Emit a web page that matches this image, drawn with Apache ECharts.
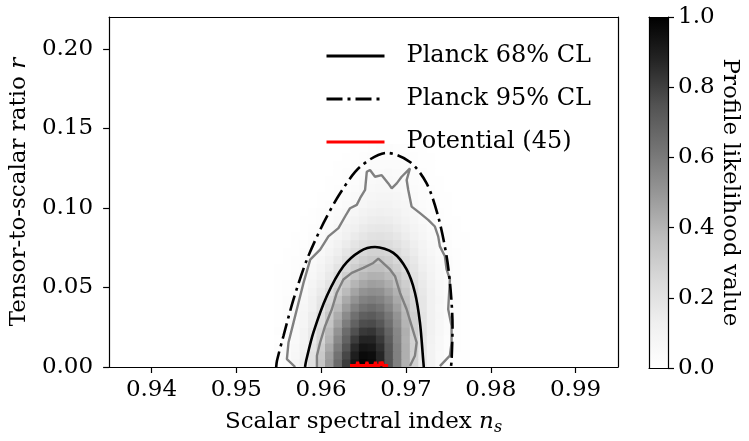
<!DOCTYPE html>
<html><head><meta charset="utf-8">
<script src="https://cdn.jsdelivr.net/npm/echarts@6/dist/echarts.min.js"></script>
<style>html,body{margin:0;padding:0;background:#fff}#c{width:749px;height:441px}</style>
</head><body><div id="c"></div>
<script>
// ---- data ----
const nsGrid = [0.955,0.956,0.957,0.958,0.959,0.960,0.961,0.962,0.963,0.964,0.965,0.966,0.967,0.968,0.969,0.970,0.971,0.972,0.973,0.974,0.975,0.976,0.977];
const rGrid = [0.0025,0.0075,0.0125,0.0175,0.0225,0.0275,0.0325,0.0375,0.0425,0.0475,0.0525,0.0575,0.0625,0.0675,0.0725,0.0775,0.0825,0.0875,0.0925,0.0975,0.1025,0.1075,0.1125,0.1175,0.1225,0.1275,0.1325,0.1375];
const likelihood = [
 [0.017,0.036,0.072,0.13,0.22,0.34,0.49,0.66,0.81,0.93,0.99,0.97,0.88,0.74,0.58,0.41,0.28,0.17,0.10,0.05,0.025,0.011,0.005],
 [0.016,0.033,0.066,0.12,0.205,0.32,0.47,0.63,0.78,0.90,0.965,0.955,0.875,0.74,0.58,0.42,0.28,0.175,0.10,0.054,0.027,0.012,0.005],
 [0.014,0.03,0.059,0.11,0.19,0.30,0.44,0.59,0.74,0.86,0.93,0.92,0.85,0.73,0.575,0.42,0.285,0.18,0.10,0.056,0.028,0.013,0.006],
 [0.012,0.027,0.053,0.098,0.17,0.27,0.40,0.55,0.69,0.81,0.88,0.88,0.82,0.71,0.56,0.415,0.28,0.18,0.105,0.056,0.028,0.013,0.006],
 [0.013,0.028,0.054,0.098,0.165,0.26,0.38,0.51,0.65,0.755,0.82,0.83,0.78,0.68,0.555,0.42,0.29,0.19,0.116,0.065,0.034,0.017,0.008],
 [0.012,0.024,0.047,0.086,0.147,0.23,0.34,0.46,0.59,0.69,0.76,0.77,0.73,0.64,0.53,0.40,0.28,0.186,0.114,0.064,0.034,0.017,0.008],
 [0.012,0.025,0.047,0.085,0.14,0.22,0.32,0.43,0.54,0.635,0.70,0.715,0.68,0.61,0.51,0.39,0.29,0.19,0.12,0.072,0.039,0.02,0.01],
 [0.010,0.021,0.040,0.073,0.12,0.19,0.28,0.38,0.48,0.57,0.63,0.65,0.625,0.56,0.47,0.37,0.27,0.18,0.116,0.069,0.038,0.02,0.01],
 [0.011,0.021,0.040,0.07,0.115,0.18,0.255,0.34,0.435,0.51,0.57,0.59,0.57,0.52,0.44,0.35,0.26,0.18,0.12,0.074,0.042,0.023,0.012],
 [0.009,0.018,0.034,0.06,0.10,0.15,0.22,0.30,0.38,0.455,0.51,0.53,0.52,0.47,0.41,0.325,0.245,0.17,0.113,0.07,0.04,0.022,0.011],
 [0.007,0.015,0.028,0.05,0.083,0.13,0.19,0.26,0.33,0.40,0.445,0.47,0.46,0.425,0.365,0.30,0.225,0.16,0.105,0.065,0.038,0.021,0.01],
 [0.006,0.012,0.023,0.042,0.07,0.11,0.16,0.22,0.29,0.345,0.39,0.415,0.41,0.38,0.33,0.27,0.20,0.145,0.097,0.06,0.035,0.019,0.01],
 [0.005,0.01,0.019,0.035,0.059,0.093,0.137,0.19,0.245,0.30,0.34,0.36,0.36,0.337,0.295,0.24,0.185,0.13,0.089,0.056,0.033,0.018,0.009],
 [0.004,0.008,0.016,0.029,0.049,0.078,0.116,0.16,0.21,0.26,0.295,0.317,0.318,0.30,0.26,0.216,0.167,0.12,0.082,0.052,0.031,0.017,0.009],
 [0.003,0.006,0.011,0.021,0.037,0.06,0.093,0.132,0.177,0.22,0.255,0.276,0.279,0.263,0.231,0.19,0.145,0.104,0.069,0.043,0.025,0.013,0.007],
 [0.002,0.004,0.009,0.017,0.03,0.05,0.076,0.11,0.147,0.185,0.216,0.235,0.24,0.227,0.20,0.167,0.128,0.092,0.062,0.039,0.023,0.012,0.006],
 [0.001,0.003,0.006,0.012,0.022,0.037,0.059,0.087,0.12,0.152,0.18,0.20,0.205,0.195,0.173,0.143,0.11,0.078,0.052,0.032,0.018,0.01,0.005],
 [0.001,0.002,0.004,0.008,0.015,0.027,0.045,0.068,0.096,0.125,0.151,0.169,0.175,0.168,0.149,0.122,0.093,0.066,0.043,0.026,0.014,0.008,0.004],
 [0,0.001,0.002,0.005,0.01,0.019,0.032,0.051,0.074,0.099,0.122,0.139,0.145,0.14,0.124,0.102,0.077,0.053,0.034,0.02,0.011,0.006,0.003],
 [0,0.001,0.001,0.003,0.007,0.013,0.024,0.039,0.058,0.079,0.10,0.115,0.122,0.118,0.105,0.086,0.064,0.044,0.028,0.016,0.008,0.004,0.002],
 [0,0,0.001,0.002,0.004,0.009,0.017,0.028,0.044,0.062,0.079,0.093,0.10,0.097,0.087,0.071,0.053,0.036,0.022,0.012,0.006,0.003,0.001],
 [0,0,0.001,0.001,0.003,0.006,0.012,0.021,0.033,0.048,0.063,0.076,0.083,0.081,0.073,0.059,0.043,0.029,0.017,0.01,0.005,0.002,0.001],
 [0,0,0,0.001,0.002,0.004,0.008,0.014,0.024,0.037,0.05,0.061,0.067,0.067,0.06,0.048,0.035,0.023,0.014,0.007,0.004,0.002,0.001],
 [0,0,0,0,0.001,0.002,0.005,0.01,0.018,0.028,0.039,0.049,0.055,0.055,0.05,0.04,0.029,0.019,0.011,0.006,0.003,0.001,0],
 [0,0,0,0,0,0.001,0.003,0.007,0.013,0.021,0.03,0.039,0.045,0.046,0.041,0.033,0.024,0.015,0.008,0.004,0.002,0.001,0],
 [0,0,0,0,0,0,0.002,0.005,0.009,0.015,0.023,0.03,0.036,0.037,0.033,0.027,0.019,0.012,0.006,0.003,0.001,0,0],
 [0,0,0,0,0,0,0,0.003,0.006,0.011,0.017,0.023,0.028,0.029,0.026,0.021,0.014,0.009,0.005,0.002,0,0,0],
 [0,0,0,0,0,0,0,0,0.003,0.007,0.012,0.017,0.021,0.022,0.02,0.016,0.011,0.006,0.003,0,0,0,0]
];
const planck68Ns = [0.9581,0.95823,0.95909,0.96067,0.96262,0.96459,0.96635,0.96851,0.97008,0.97106,0.97165,0.97204,0.9721];
const planck68R  = [0,0.0039,0.0217,0.0446,0.0633,0.0727,0.0754,0.0717,0.0613,0.0467,0.0279,0.0039,0];
const planck95Ns = [0.9547,0.95479,0.95556,0.95674,0.95832,0.96027,0.96224,0.96459,0.96773,0.97047,0.97244,0.9738,0.97479,0.97526,0.97549,0.97538,0.9753];
const planck95R  = [0,0.0039,0.0196,0.0425,0.0675,0.0904,0.1092,0.1258,0.1346,0.1289,0.1154,0.0946,0.0696,0.0488,0.0258,0.0039,0];
const outerNs = [0.95694,0.95596,0.95615,0.95674,0.95733,0.95792,0.95871,0.95988,0.96086,0.96204,0.96282,0.96341,0.9642,0.96459,0.96518,0.96538,0.96576,0.96635,0.96714,0.96792,0.96832,0.96891,0.96949,0.97047,0.97008,0.97027,0.97067,0.97165,0.97262,0.97341,0.9738,0.974,0.97459,0.97479,0.97518,0.97498,0.97538,0.97538,0.97518,0.974];
const outerR  = [0,0.005,0.0154,0.0279,0.0404,0.0529,0.0675,0.0738,0.0821,0.0873,0.0946,0.0998,0.1019,0.1061,0.1113,0.1227,0.1238,0.1196,0.1206,0.1154,0.1123,0.1154,0.1196,0.1248,0.1175,0.1113,0.1008,0.0967,0.0925,0.0883,0.0821,0.0758,0.0696,0.0613,0.055,0.0363,0.0258,0.0154,0.0071,0.0006];
const innerNs = [0.9595,0.9595,0.95988,0.96047,0.96126,0.96185,0.96262,0.96361,0.96498,0.96615,0.96674,0.96812,0.96871,0.96929,0.97008,0.97067,0.97126,0.97106,0.97047];
const innerR  = [0,0.0071,0.0154,0.0258,0.0363,0.0467,0.055,0.0592,0.0623,0.0654,0.0681,0.0613,0.0571,0.0467,0.0363,0.0258,0.0154,0.0071,0.0006];
const potentialNs = [0.9634,0.9642,0.9643,0.9644,0.9653,0.9654,0.9655,0.9663,0.9664,0.9665,0.9669,0.96695,0.9670,0.9671,0.96718,0.9673,0.9679];
const potentialR  = [0.0010,0.0010,0.0033,0.0010,0.0010,0.0033,0.0010,0.0010,0.0033,0.0010,0.0010,0.0033,0.0010,0.0010,0.0033,0.0010,0.0010];
const xTicks = [0.94,0.95,0.96,0.97,0.98,0.99];
const yTicks = [0,0.05,0.10,0.15,0.20];
const cbTicks = [0,0.2,0.4,0.6,0.8,1.0];
const legendNames = ['Planck 68% CL','Planck 95% CL','Potential (45)'];

// ---- chart ----
const FONT = 'DejaVu Serif';
const greys = ['#ffffff','#f0f0f0','#d9d9d9','#bdbdbd','#969696','#737373','#525252','#252525','#000000'];
const heatData = [];
rGrid.forEach((r,i)=>nsGrid.forEach((ns,j)=>heatData.push([ns,r,likelihood[i][j]])));
const halfNs = (nsGrid[1]-nsGrid[0])/2, halfR = (rGrid[1]-rGrid[0])/2;
const pairs = (xs, ys) => xs.map((x,i)=>[x, ys[i]]);
const AX = {color:'#000', width:1.2};
const txt = {color:'#000', fontFamily:FONT, fontSize:23};
const frameAxis = (grid, pos, min, max) => ({gridIndex:grid, type:'value', min, max, position:pos,
  axisLine:{show:true,onZero:false,lineStyle:AX}, axisTick:{show:false}, axisLabel:{show:false}, splitLine:{show:false}, z:5});

const chart = echarts.init(document.getElementById('c'));
chart.setOption({
  animation:false,
  backgroundColor:'#fff',
  grid:[{left:108.5, right:131, top:17, bottom:73},{left:649, width:19, top:17, bottom:73}],
  visualMap:{type:'continuous', show:false, min:0, max:1, dimension:2, seriesIndex:0, inRange:{color:greys}},
  legend:{data:legendNames, orient:'vertical', left:325, top:44, padding:0, itemWidth:58, itemHeight:14, itemGap:19,
    itemStyle:{opacity:0, borderWidth:0},
    lineStyle:{width:3},
    formatter:n=>'{g|}'+n,
    textStyle:{color:'#000', fontFamily:FONT, fontSize:24, rich:{g:{width:17}}}},
  xAxis:[
    {gridIndex:0, type:'value', min:0.935, max:0.995, position:'bottom',
     axisLine:{show:true,onZero:false,lineStyle:AX},
     axisTick:{show:true,length:6,customValues:xTicks,lineStyle:AX},
     axisLabel:Object.assign({customValues:xTicks, formatter:v=>v.toFixed(2), margin:12}, txt),
     splitLine:{show:false},
     name:'{a|Scalar spectral index }{b|n}{c|s}', nameLocation:'middle', nameGap:41,
     nameTextStyle:Object.assign({rich:{
       a:Object.assign({verticalAlign:'middle'},txt),
       b:Object.assign({verticalAlign:'middle',fontStyle:'italic'},txt),
       c:{color:'#000',fontFamily:FONT,fontSize:16,fontStyle:'italic',verticalAlign:'middle',padding:[12,0,0,0]}}},txt),
     z:5},
    frameAxis(0,'top',0.935,0.995),
    frameAxis(1,'bottom',0,1),
    frameAxis(1,'top',0,1)
  ],
  yAxis:[
    {gridIndex:0, type:'value', min:0, max:0.22, position:'left',
     axisLine:{show:true,onZero:false,lineStyle:AX},
     axisTick:{show:true,length:6,customValues:yTicks,lineStyle:AX},
     axisLabel:Object.assign({customValues:yTicks, formatter:v=>v.toFixed(2), margin:16}, txt),
     splitLine:{show:false},
     name:'{a|Tensor-to-scalar ratio }{b|r}', nameLocation:'middle', nameGap:78, nameRotate:90,
     nameTextStyle:Object.assign({rich:{a:Object.assign({},txt), b:Object.assign({fontStyle:'italic'},txt)}},txt),
     z:5},
    frameAxis(0,'right',0,0.22),
    frameAxis(1,'left',0,1),
    {gridIndex:1, type:'value', min:0, max:1, position:'right',
     axisLine:{show:true,onZero:false,lineStyle:AX},
     axisTick:{show:true,length:6,customValues:cbTicks,lineStyle:AX},
     axisLabel:Object.assign({customValues:cbTicks, formatter:v=>v.toFixed(1), margin:10}, txt),
     splitLine:{show:false},
     name:'Profile likelihood value', nameLocation:'middle', nameGap:47, nameRotate:-90,
     nameTextStyle:txt, z:5}
  ],
  series:[
    {type:'custom', name:'likelihood', xAxisIndex:0, yAxisIndex:0, z:1, clip:true, data:heatData,
     encode:{x:0,y:1},
     renderItem:(params, api)=>{
       const x=api.value(0), y=api.value(1);
       const p0=api.coord([x-halfNs, y+halfR]), p1=api.coord([x+halfNs, y-halfR]);
       return {type:'rect', shape:{x:p0[0]-0.4, y:p0[1]-0.4, width:p1[0]-p0[0]+0.8, height:p1[1]-p0[1]+0.8},
         style:{fill:api.visual('color')}};
     }},
    {type:'line', name:'outer', data:pairs(outerNs,outerR), symbol:'none', z:2,
     lineStyle:{color:'#808080', width:2.4}, itemStyle:{color:'#808080'}},
    {type:'line', name:'inner', data:pairs(innerNs,innerR), symbol:'none', z:2,
     lineStyle:{color:'#808080', width:2.4}, itemStyle:{color:'#808080'}},
    {type:'line', name:legendNames[0], data:pairs(planck68Ns,planck68R), symbol:'none', smooth:0.3, z:3,
     lineStyle:{color:'#000', width:2.6}, itemStyle:{color:'#000'}},
    {type:'line', name:legendNames[1], data:pairs(planck95Ns,planck95R), symbol:'none', smooth:0.3, z:3,
     lineStyle:{color:'#000', width:2.6, type:[16,5,3,5]}, itemStyle:{color:'#000'}},
    {type:'line', name:legendNames[2], data:pairs(potentialNs,potentialR), symbol:'none', z:4,
     lineStyle:{color:'#ff0000', width:3}, itemStyle:{color:'#ff0000'}},
    {type:'custom', name:'colorbar', xAxisIndex:2, yAxisIndex:2, z:1, data:[[0,0]],
     renderItem:(params, api)=>{
       const p0=api.coord([0,1]), p1=api.coord([1,0]);
       return {type:'rect', shape:{x:p0[0], y:p0[1], width:p1[0]-p0[0], height:p1[1]-p0[1]},
         style:{fill:new echarts.graphic.LinearGradient(0,1,0,0, greys.map((c,i)=>({offset:i/(greys.length-1), color:c})))}};
     }}
  ]
});
</script></body></html>
